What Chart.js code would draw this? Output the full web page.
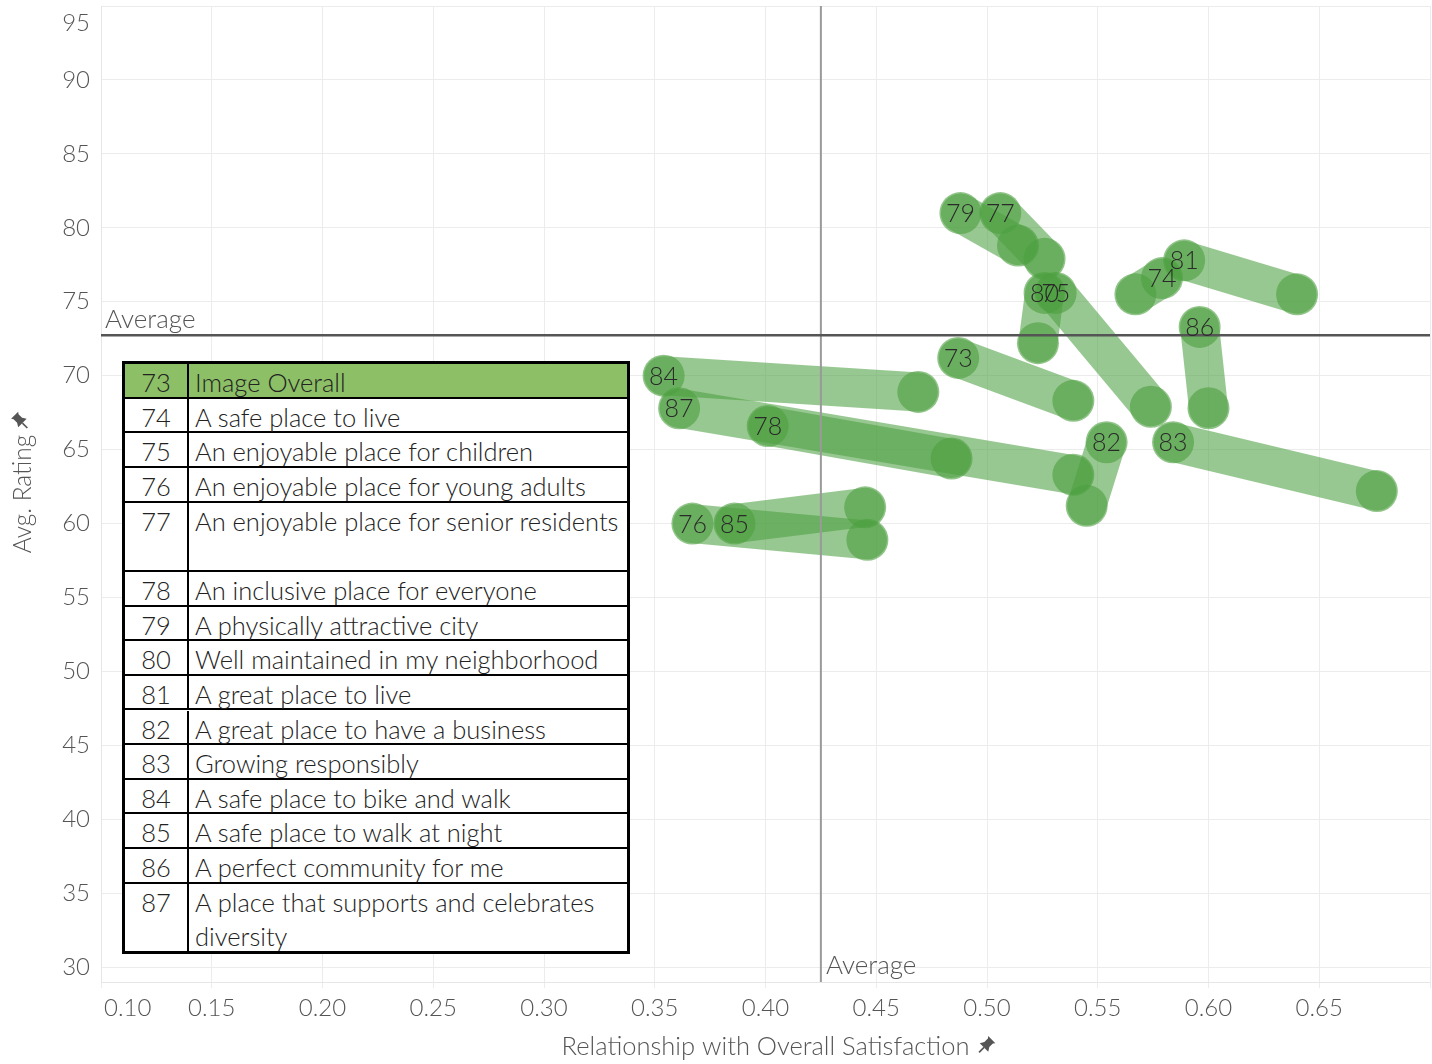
<!DOCTYPE html>
<html>
<head>
<meta charset="utf-8">
<title>Image attributes: rating vs relationship with overall satisfaction</title>
<script src="https://cdn.jsdelivr.net/npm/chart.js@4.4.1/dist/chart.umd.min.js"></script>
<style>
  html, body { margin: 0; padding: 0; background: #fff; }
  #wrap { position: relative; width: 1432px; height: 1064px; overflow: hidden; }
  #chart { position: absolute; left: 0; top: 0; }
  #keyTable {
    position: absolute; left: 122px; top: 361px; width: 502px;
    background: #fff; border: 3px solid #000; box-sizing: content-box;
    font-family: Lato, "Open Sans", sans-serif; font-weight: 300; font-size: 25.5px; color: #222;
  }
  .keyRow { position: absolute; left: 0; width: 100%; box-sizing: border-box; border-bottom: 2px solid #000; }
  .keyRow:last-child { border-bottom: none; }
  .keyRow.first { background: #8cbf66; }
  .keyCode { position: absolute; left: 0; top: 0; bottom: 0; width: 64px; text-align: center; border-right: 2px solid #000; box-sizing: border-box; }
  .keyText { position: absolute; left: 70px; right: 2px; top: 0; }
  .keyCode, .keyText { line-height: 34.6px; padding-top: 1px; }
</style>
</head>
<body>
<div id="wrap">
  <canvas id="chart" width="1432" height="1064"></canvas>
  <div id="keyTable"></div>
</div>
<script>
// Image attribute codes and their statements
const codes = [73, 74, 75, 76, 77, 78, 79, 80, 81, 82, 83, 84, 85, 86, 87];
const statements = [
  'Image Overall',
  'A safe place to live',
  'An enjoyable place for children',
  'An enjoyable place for young adults',
  'An enjoyable place for senior residents',
  'An inclusive place for everyone',
  'A physically attractive city',
  'Well maintained in my neighborhood',
  'A great place to live',
  'A great place to have a business',
  'Growing responsibly',
  'A safe place to bike and walk',
  'A safe place to walk at night',
  'A perfect community for me',
  'A place that supports and celebrates diversity'
];

// Labeled end of each attribute (relationship, avg. rating)
const relLabeled    = [0.487, 0.579, 0.531, 0.367, 0.506, 0.401, 0.488, 0.526, 0.589, 0.554, 0.584, 0.354, 0.386, 0.596, 0.361];
const ratingLabeled = [71.2, 76.6, 75.6, 60.0, 81.0, 66.6, 81.0, 75.6, 77.8, 65.5, 65.5, 70.0, 60.0, 73.3, 67.8];
// Other end of each attribute trail
const relOther      = [0.539, 0.567, 0.574, 0.446, 0.526, 0.484, 0.514, 0.523, 0.640, 0.545, 0.676, 0.469, 0.445, 0.600, 0.539];
const ratingOther   = [68.3, 75.5, 67.9, 58.9, 77.9, 64.4, 78.8, 72.2, 75.5, 61.2, 62.2, 68.9, 61.1, 67.8, 63.3];

// Reference lines
const averageRel = 0.425;
const averageRating = 72.73;

// Axis ranges and tick steps
const xRange = [0.10, 0.70];
const yRange = [29, 95];
const xStep = 0.05;
const yStep = 5;

// Number of text lines each key row occupies
const keyRowLines = [1, 1, 1, 1, 2, 1, 1, 1, 1, 1, 1, 1, 1, 1, 2];

const FONT = 'Lato, "Open Sans", sans-serif';
const BAND = 'rgba(78,160,65,0.58)';
const DOT = 'rgba(78,160,65,0.62)';

// ---- key table ----
(function buildKey() {
  const unit = 34.65;
  const key = document.getElementById('keyTable');
  let cum = 0;
  codes.forEach((c, i) => {
    const row = document.createElement('div');
    row.className = 'keyRow' + (i === 0 ? ' first' : '');
    row.style.top = (cum * unit) + 'px';
    row.style.height = (keyRowLines[i] * unit) + 'px';
    const code = document.createElement('div');
    code.className = 'keyCode';
    code.textContent = c;
    const txt = document.createElement('div');
    txt.className = 'keyText';
    txt.textContent = statements[i];
    row.appendChild(code);
    row.appendChild(txt);
    key.appendChild(row);
    cum += keyRowLines[i];
  });
  key.style.height = (cum * unit - 2) + 'px';
})();

// ---- chart ----
const datasets = codes.map((c, i) => ({
  label: String(c),
  data: [
    { x: relLabeled[i], y: ratingLabeled[i] },
    { x: relOther[i], y: ratingOther[i] }
  ],
  showLine: true,
  borderColor: BAND,
  borderWidth: 39,
  borderCapStyle: 'round',
  tension: 0,
  pointRadius: 21,
  pointHoverRadius: 21,
  pointBackgroundColor: DOT,
  pointBorderWidth: 0,
  pointBorderColor: 'rgba(0,0,0,0)',
  clip: false
}));

// Keeps the first x label and the top y label inside the plot edge
const edgeLabels = {
  id: 'edgeLabels',
  beforeDraw(chart) {
    const xs = chart.scales.x, ys = chart.scales.y;
    const xi = xs.getLabelItems();
    if (xi.length) {
      const it = xi[0];
      it.options.textAlign = 'left';
      it.options.translation[0] = chart.chartArea.left + 3;
    }
    const yi = ys.getLabelItems();
    yi.forEach(it => {
      if (it.label === String(yRange[1])) {
        it.options.translation[1] = chart.chartArea.top + 17;
      }
    });
  }
};

// Average reference lines plus the code label on each labeled end
const overlays = {
  id: 'overlays',
  afterDatasetsDraw(chart) {
    const { ctx, chartArea: a, scales: { x: xs, y: ys } } = chart;
    const vx = xs.getPixelForValue(averageRel);
    const hy = ys.getPixelForValue(averageRating);
    ctx.save();
    ctx.lineWidth = 2;
    ctx.strokeStyle = '#9a9a9a';
    ctx.beginPath(); ctx.moveTo(vx, a.top); ctx.lineTo(vx, a.bottom); ctx.stroke();
    ctx.lineWidth = 2.5;
    ctx.strokeStyle = '#555';
    ctx.beginPath(); ctx.moveTo(a.left, hy); ctx.lineTo(a.right, hy); ctx.stroke();

    ctx.font = '300 26px ' + FONT;
    ctx.fillStyle = '#555';
    ctx.textAlign = 'left';
    ctx.textBaseline = 'alphabetic';
    ctx.fillText('Average', a.left + 4, hy - 7);
    ctx.textBaseline = 'middle';
    ctx.fillText('Average', vx + 5, a.bottom - 16);

    ctx.font = '300 25px ' + FONT;
    ctx.fillStyle = '#2a2a2a';
    ctx.textAlign = 'center';
    ctx.textBaseline = 'middle';
    chart.data.datasets.forEach((ds, i) => {
      const p = chart.getDatasetMeta(i).data[0];
      ctx.fillText(ds.label, p.x, p.y + 1);
    });
    ctx.restore();
  }
};

// Small pin marks next to both axis titles
function drawPin(ctx, x, y, angle) {
  ctx.save();
  ctx.translate(x, y);
  ctx.rotate(angle);
  ctx.fillStyle = '#555';
  ctx.strokeStyle = '#555';
  ctx.lineWidth = 1.6;
  ctx.beginPath(); ctx.moveTo(0, 2); ctx.lineTo(0, 9); ctx.stroke();
  ctx.beginPath();
  ctx.moveTo(-6, 2); ctx.lineTo(6, 2); ctx.lineTo(3.5, -2); ctx.lineTo(3.5, -7);
  ctx.lineTo(5, -9); ctx.lineTo(-5, -9); ctx.lineTo(-3.5, -7); ctx.lineTo(-3.5, -2);
  ctx.closePath(); ctx.fill();
  ctx.restore();
}
const pins = {
  id: 'pins',
  afterDraw(chart) {
    const { ctx, chartArea: a } = chart;
    ctx.save();
    const xTitle = chart.options.scales.x.title;
    ctx.font = '300 ' + xTitle.font.size + 'px ' + FONT;
    const wx = ctx.measureText(xTitle.text).width;
    drawPin(ctx, (a.left + a.right) / 2 + wx / 2 + 16, 1046, Math.PI / 4);
    const yTitle = chart.options.scales.y.title;
    ctx.font = '300 ' + yTitle.font.size + 'px ' + FONT;
    const wy = ctx.measureText(yTitle.text).width;
    drawPin(ctx, 21, (a.top + a.bottom) / 2 - wy / 2 - 13, Math.PI / 4 - Math.PI / 2);
    ctx.restore();
  }
};

const tickFont = { family: FONT, size: 24, weight: '300' };
const titleFont = { family: FONT, size: 25.5, weight: '300' };

new Chart(document.getElementById('chart'), {
  type: 'scatter',
  data: { datasets },
  options: {
    responsive: false,
    devicePixelRatio: 1,
    animation: false,
    events: [],
    layout: { autoPadding: false, padding: { left: 0, top: 6, right: 2, bottom: 0 } },
    plugins: { legend: { display: false }, tooltip: { enabled: false } },
    scales: {
      x: {
        type: 'linear',
        min: xRange[0], max: xRange[1],
        ticks: {
          stepSize: xStep,
          includeBounds: false,
          font: tickFont, color: '#555', padding: 6,
          maxRotation: 0, autoSkip: false,
          callback: v => (Math.abs(v - xRange[1]) < 1e-6 ? '' : Number(v).toFixed(2))
        },
        grid: { color: '#ececec', lineWidth: 1, drawTicks: true, tickLength: 6, tickColor: '#ececec' },
        border: { display: true, color: '#e6e6e6' },
        title: { display: true, text: 'Relationship with Overall Satisfaction', font: titleFont, color: '#555', padding: { top: 0, bottom: 2 } },
        afterFit(s) { s.height = 82; s.paddingLeft = 0; s.paddingRight = 0; }
      },
      y: {
        type: 'linear',
        min: yRange[0], max: yRange[1],
        ticks: {
          stepSize: yStep,
          includeBounds: false,
          font: tickFont, color: '#555', padding: 11,
          autoSkip: false,
          callback: v => (v % yStep === 0 ? String(v) : '')
        },
        grid: { color: '#ececec', lineWidth: 1, drawTicks: false },
        border: { display: true, color: '#e6e6e6' },
        title: { display: true, text: 'Avg. Rating', font: { family: FONT, size: 24.5, weight: '300' }, color: '#555', padding: { top: 8, bottom: 0 } },
        afterFit(s) { s.width = 101; s.paddingTop = 0; s.paddingBottom = 0; }
      }
    }
  },
  plugins: [edgeLabels, overlays, pins]
});
</script>
</body>
</html>
